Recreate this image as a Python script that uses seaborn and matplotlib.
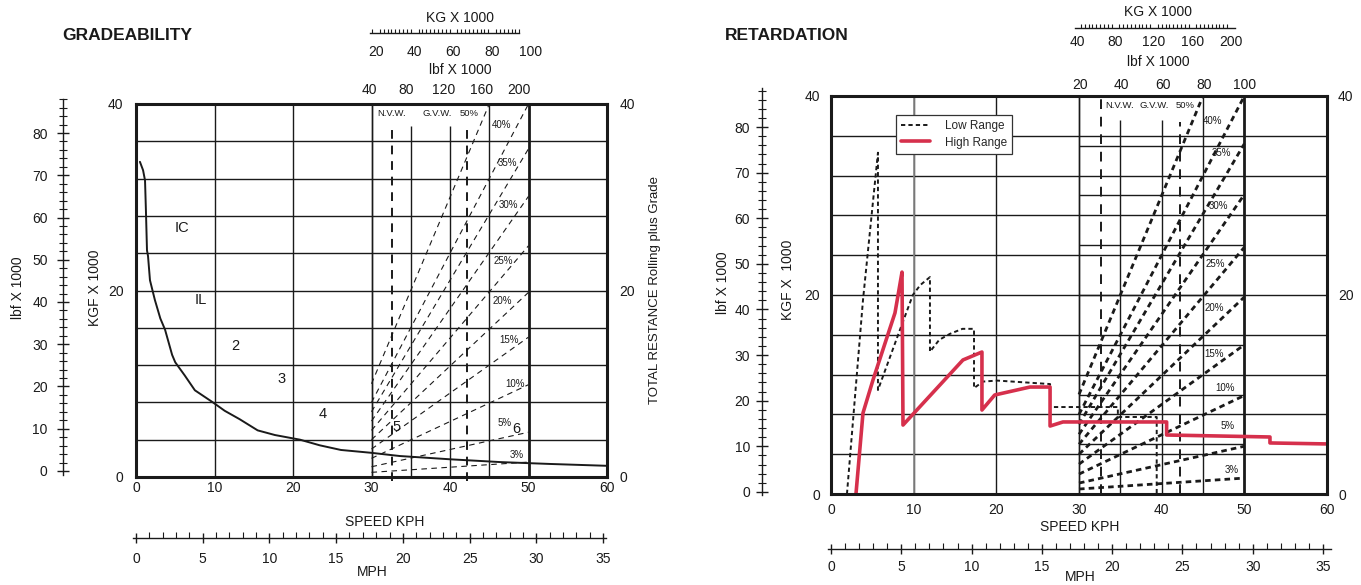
import numpy as np
import pandas as pd
import matplotlib
matplotlib.use("Agg")
import matplotlib.pyplot as plt
import seaborn as sns

# ---------------- values ----------------
# Gradeability: rimpull curve, speed (km/h) vs force (kgf x 1000)
rimpull_kph = [0.5, 0.9, 1.15, 1.27, 1.4, 1.53, 1.78, 2.4, 3.1, 3.7, 4.6, 5.0, 6.2, 7.5,
               9.8, 11.3, 13.2, 15.5, 17.7, 20.9, 23.4, 26.1, 29.9, 33.6, 40, 46.4, 52.7, 60]
rimpull_kgf = [33.8, 32.9, 31.8, 28.4, 24.3, 23.7, 21.1, 19.0, 17.0, 15.8, 13.1, 12.3, 10.9, 9.3,
               8.0, 7.1, 6.2, 5.0, 4.5, 4.0, 3.4, 2.9, 2.6, 2.25, 1.9, 1.6, 1.4, 1.2]
gear_names = ["IC", "IL", "2", "3", "4", "5", "6"]
gear_kph = [5.9, 8.3, 12.7, 18.5, 23.8, 33.2, 48.4]
gear_kgf = [26.7, 19.0, 14.1, 10.5, 6.75, 5.4, 5.1]

# Retardation: low range and high range
low_kph = [1.93, 3.87, 5.68, 5.68, 8.34, 9.9, 10.8, 11.97, 11.97, 13.1, 14.4, 15.9, 17.3, 17.3,
           18.4, 20.1, 26.5, 26.5, 34.7, 34.7, 39.4, 39.4]
low_kgf = [0, 19.5, 34.3, 10.45, 16.5, 20.0, 21.0, 21.8, 14.3, 15.5, 16.1, 16.6, 16.6, 10.65,
           11.3, 11.4, 11.05, 8.74, 8.74, 7.74, 7.74, 0]
high_kph = [3.02, 3.87, 5.08, 7.74, 8.22, 8.59, 8.71, 15.96, 18.26, 18.26, 19.8, 24.07, 26.5,
            26.5, 28.06, 40.6, 40.6, 53.1, 53.1, 60.1]
high_kgf = [0, 8.14, 11.46, 18.2, 20.5, 22.3, 6.93, 13.47, 14.27, 8.44, 9.95, 10.75, 10.75,
            6.83, 7.24, 7.24, 5.93, 5.73, 5.13, 5.03]

# Grade lines: gross weight (kg x 1000) vs total resistance (kgf x 1000)
grade_names = ["3%", "5%", "10%", "15%", "20%", "25%", "30%", "35%", "40%", "50%"]
grade_w_start = [20, 20, 20, 20, 20, 20, 20, 20, 20, 20]
grade_w_end = [100, 100, 100, 100, 100, 100, 100, 100, 100, 80]
grade_r_start = [0.5, 1.1, 2, 3, 4, 5, 6, 7, 8, 10]
grade_r_end = [1.6, 4.8, 9.9, 15, 19.8, 24.8, 30.1, 35.2, 40, 40]
weight_lines = [20, 40, 60, 80, 100]
nvw_weight, gvw_weight = 30.5, 68.8

kph_ticks = [0, 10, 20, 30, 40, 50, 60]
kgf_ticks = [0, 20, 40]
kgf_grid = [4, 8, 12, 16, 20, 24, 28, 32, 36]
sub_grid = [5, 10, 15, 20, 25, 30, 35]
mph_ticks = [0, 5, 10, 15, 20, 25, 30, 35]
lbf_ticks = [0, 10, 20, 30, 40, 50, 60, 70, 80]
kg_top_left = [20, 40, 60, 80, 100]
lbf_top_left = [40, 80, 120, 160, 200]
kg_top_right = [40, 80, 120, 160, 200]
lbf_top_right = [20, 40, 60, 80, 100]

# label spots for the grade lines (weight, resistance)
left_pct_w = [93.9, 87.8, 92.9, 90.3, 86.8, 87.3, 89.8, 89.3, 86.2]
left_pct_r = [2.36, 5.8, 10.0, 14.7, 18.9, 23.2, 29.2, 33.7, 37.7]
right_pct_w = [93.7, 91.8, 90.9, 85.5, 85.5, 86.0, 87.5, 88.9, 84.6]
right_pct_r = [2.4, 6.8, 10.65, 14.1, 18.7, 23.1, 28.9, 34.3, 37.5]

# ---------------- figure ----------------
sns.set_style("white")
plt.rcParams["font.family"] = ["Liberation Sans", "DejaVu Sans"]
W_PX, H_PX = 1361, 585
fig = plt.figure(figsize=(W_PX / 100, H_PX / 100), dpi=100)
INK = "#1a1a1a"
RED = "#d6304c"


def box(x0, y0, x1, y1):
    return [x0 / W_PX, 1 - y1 / H_PX, (x1 - x0) / W_PX, (y1 - y0) / H_PX]


def put(x, y, s, **kw):
    kw.setdefault("ha", "center")
    kw.setdefault("va", "center")
    kw.setdefault("fontsize", 10)
    kw.setdefault("color", INK)
    fig.text(x / W_PX, 1 - y / H_PX, s, **kw)


def hruler(x0, x1, y, lim, ticks, labels, minor=None, bounds=None, line=True,
           major_len=0, minor_len=3, direction="in", pad=3):
    r = fig.add_axes(box(x0, y - 2, x1, y))
    r.set_xlim(lim)
    r.set_ylim(0, 1)
    r.patch.set_visible(False)
    r.set_yticks([])
    for side in ("left", "right", "top"):
        r.spines[side].set_visible(False)
    r.spines["bottom"].set_visible(line)
    r.spines["bottom"].set_linewidth(1.0)
    r.spines["bottom"].set_color(INK)
    if bounds is not None:
        r.spines["bottom"].set_bounds(*bounds)
    r.set_xticks(ticks)
    r.set_xticklabels([str(v) for v in labels])
    if minor is not None:
        r.set_xticks(minor, minor=True)
    r.tick_params(axis="x", which="major", bottom=True, length=major_len, width=1,
                  direction=direction, pad=pad, labelsize=10, colors=INK)
    r.tick_params(axis="x", which="minor", bottom=True, length=minor_len, width=0.8,
                  direction="in", colors=INK)
    return r


def vruler(x, y0, y1, lim, pad):
    r = fig.add_axes(box(x, y0, x + 2, y1))
    r.set_ylim(lim)
    r.set_xlim(0, 1)
    r.patch.set_visible(False)
    r.set_xticks([])
    for side in ("bottom", "right", "top"):
        r.spines[side].set_visible(False)
    r.spines["left"].set_linewidth(1.0)
    r.spines["left"].set_color(INK)
    r.set_yticks(lbf_ticks)
    r.set_yticks(np.arange(0, 89, 2), minor=True)
    r.tick_params(axis="y", which="major", left=True, length=8, width=1, direction="inout",
                  pad=pad, labelsize=10, colors=INK)
    r.tick_params(axis="y", which="minor", left=True, length=6, width=0.8, direction="inout",
                  colors=INK)
    return r


def chart(rect, ypad, xpad, heavy):
    ax = fig.add_axes(rect)
    ax.set_xlim(0, 60)
    ax.set_ylim(0, 40)
    wt = ax.twiny()
    ax.set_zorder(wt.get_zorder() + 1)
    ax.patch.set_visible(False)
    for s in ax.spines.values():
        s.set_linewidth(2.2)
        s.set_color(INK)
    ax.set_xticks(kph_ticks)
    ax.set_yticks(kgf_ticks)
    ax.tick_params(axis="both", length=0, labelsize=10, colors=INK)
    ax.tick_params(axis="y", pad=ypad, labelright=True)
    ax.tick_params(axis="x", pad=xpad)
    for y in kgf_grid:
        wt.axhline(y, color=INK, lw=1.0, zorder=1)
    for x in kph_ticks[1:4]:
        wt.axvline(x * 4 - 100, color=INK, lw=1.0, zorder=1)
    for w in weight_lines:
        top = 37.6 if w in (40, 60) else 40
        wt.vlines(w, 0, top, color=INK, lw=2.0 if w == 100 else 1.0, zorder=1)
    rows = []
    for g, w0, w1, r0, r1 in zip(grade_names, grade_w_start, grade_w_end, grade_r_start, grade_r_end):
        rows += [(g, w0, r0), (g, w1, r1)]
    gdf = pd.DataFrame(rows, columns=["grade", "weight", "resistance"])
    if heavy:
        sns.lineplot(data=gdf, x="weight", y="resistance", units="grade", estimator=None,
                     sort=False, color=INK, lw=2.0, linestyle=(0, (2.0, 1.5)), ax=wt, zorder=2)
    else:
        sns.lineplot(data=gdf, x="weight", y="resistance", units="grade", estimator=None,
                     sort=False, color=INK, lw=0.8, linestyle=(0, (5, 4)), ax=wt, zorder=2)
    wt.set_xlim(-100, 140)  # 20 t sits on 30 km/h, 100 t on 50 km/h
    wt.set_ylim(0, 40)
    wt.axis("off")
    return ax, wt


# ---------------- GRADEABILITY ----------------
ax1, wt1 = chart(box(136, 104, 607, 477), ypad=9, xpad=3, heavy=False)
wt1.vlines([nvw_weight, gvw_weight], -0.4, 37.6, color=INK, lw=1.4,
           linestyle=(0, (4.5, 3.5)), clip_on=False, zorder=2)
sns.lineplot(x=rimpull_kph, y=rimpull_kgf, sort=False, estimator=None, color=INK, lw=1.4, ax=ax1)
for name, x, y in zip(gear_names, gear_kph, gear_kgf):
    ax1.text(x, y, name, ha="center", va="center", fontsize=10.5, color=INK)
for name, w, r in zip(grade_names, left_pct_w, left_pct_r):
    wt1.text(w, r, name, ha="center", va="center", fontsize=7, color=INK)
for name, w in zip(["N.V.W.", "G.V.W.", "50%"], [30.2, 53.6, 70.0]):
    wt1.text(w, 39.0, name, ha="center", va="center", fontsize=6.8, color=INK)

put(62, 35, "GRADEABILITY", ha="left", fontsize=12.5, fontweight="bold")
put(460, 18, "KG X 1000")
put(460, 70, "lbf X 1000")
put(18, 288, "lbf X 1000", rotation=90)
put(95, 288, "KGF X 1000", rotation=90)
put(655, 290, "TOTAL RESTANCE Rolling plus Grade", rotation=90, fontsize=9.5)
put(385, 522, "SPEED KPH")
put(372, 572, "MPH")

hruler(372, 531, 33, (20, 100), kg_top_left, kg_top_left, minor=np.arange(18, 95, 2),
       bounds=(17, 94), minor_len=3, pad=8.5)
hruler(369, 519, 80, (40, 200), lbf_top_left, lbf_top_left, line=False, pad=2)
hruler(136, 603, 538, (0, 35), mph_ticks, mph_ticks, minor=np.arange(0, 36, 1),
       bounds=(-0.2, 35.2), major_len=7, minor_len=4, direction="inout", pad=6.5)
vruler(63, 99, 475, (-0.95, 88.05), pad=7)

# ---------------- RETARDATION ----------------
ax2, wt2 = chart(box(831, 96, 1327, 494), ypad=8, xpad=6.5, heavy=True)
wt2.hlines(sub_grid, 20, 100, color=INK, lw=1.0, zorder=1)
wt2.vlines(nvw_weight, 0, 39.9, color=INK, lw=1.4, linestyle=(0, (5, 4)), zorder=2)
wt2.vlines(gvw_weight, 0, 37.4, color=INK, lw=1.4, linestyle=(0, (5, 4)), zorder=2)
# the 10 km/h gridline is lighter in the reference
wt2.axvline(10 * 4 - 100, color="#8c8c8c", lw=1.2, zorder=1)

sns.lineplot(x=low_kph, y=low_kgf, sort=False, estimator=None, color=INK, lw=1.4,
             linestyle=(0, (2.2, 1.6)), ax=ax2, label="Low Range")
sns.lineplot(x=high_kph, y=high_kgf, sort=False, estimator=None, color=RED, lw=2.6,
             ax=ax2, label="High Range")
leg = ax2.legend(loc="upper left", bbox_to_anchor=(0.131, 0.952), fontsize=8.5, frameon=True,
                 fancybox=False, edgecolor="#333333", framealpha=1, handlelength=2.4,
                 handletextpad=1.3, borderpad=0.45, labelspacing=0.35, borderaxespad=0)
leg.get_frame().set_linewidth(0.9)
for name, w, r in zip(grade_names, right_pct_w, right_pct_r):
    wt2.text(w, r, name, ha="center", va="center", fontsize=7, color=INK)
for name, w in zip(["N.V.W.", "G.V.W.", "50%"], [39.8, 56.6, 71.6]):
    wt2.text(w, 39.0, name, ha="center", va="center", fontsize=6.8, color=INK)

put(725, 35, "RETARDATION", ha="left", fontsize=12.5, fontweight="bold")
put(1158, 12, "KG X 1000")
put(1158, 62, "lbf X 1000")
put(723, 283, "lbf X 1000", rotation=90)
put(788, 280, "KGF X  1000", rotation=90)
put(1080, 527, "SPEED KPH")
put(1080, 577, "MPH")

hruler(1077, 1231, 28, (40, 200), kg_top_right, kg_top_right, minor=np.arange(40, 204, 4),
       bounds=(38, 204), minor_len=3, pad=5)
hruler(1080, 1245, 75, (20, 100), lbf_top_right, lbf_top_right, line=False, pad=2)
hruler(831, 1323, 549, (0, 35), mph_ticks, mph_ticks, minor=np.arange(0, 36, 1),
       bounds=(-0.2, 35.6), major_len=7, minor_len=4, direction="inout", pad=4.5)
vruler(762, 88, 495, (-0.66, 88.55), pad=4.5)

fig.savefig("out.png", dpi=100, facecolor="white")
